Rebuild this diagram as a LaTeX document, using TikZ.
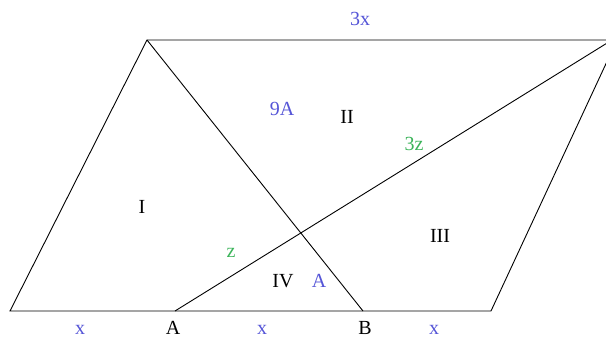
\documentclass[tikz,border=0pt]{standalone}
\usepackage{fontspec}
\setmainfont{Liberation Serif}
\definecolor{lblue}{RGB}{85,85,215}
\definecolor{lgreen}{RGB}{60,180,90}
\begin{document}
\begin{tikzpicture}[x=1pt,y=-1pt,
  edge/.style={draw=black, line width=0.9pt},
  lbl/.style={font=\fontsize{20}{20}\selectfont, inner sep=0pt},
  bl/.style={lbl, text=lblue},
  gr/.style={lbl, text=lgreen},
  bk/.style={lbl, text=black}]
\useasboundingbox (0,0) rectangle (606,339);
\clip (0,0) rectangle (606,339);
\coordinate (P1) at (10,311);
\coordinate (P2) at (491,311);
\coordinate (P3) at (617,40);
\coordinate (P4) at (147,40);
\coordinate (A) at (175,311);
\coordinate (B) at (363,311);
\coordinate (T) at (612,40);
\draw[edge] (P1) -- (P2) -- (P3) -- (P4) -- cycle;
\draw[edge] (P4) -- (B);
\draw[edge] (A) -- (T);
\node[bl] (t3x) at (360,19) {3x};
\node[bl] (t9A) at (282,109) {9A};
\node[bk] (tII) at (347,117) {II};
\node[gr] (t3z) at (414,144) {3z};
\node[bk] (tI) at (142,207) {I};
\node[bk] (tIII) at (440,236) {III};
\node[gr] (tz) at (231,253) {z};
\node[bk] (tIV) at (283,281) {IV};
\node[bl] (tA) at (319,281) {A};
\node[bl] (x1) at (80,330) {x};
\node[bk] (lA) at (173,328) {A};
\node[bl] (x2) at (262,330) {x};
\node[bk] (lB) at (365,328) {B};
\node[bl] (x3) at (434,330) {x};
\end{tikzpicture}
\end{document}
